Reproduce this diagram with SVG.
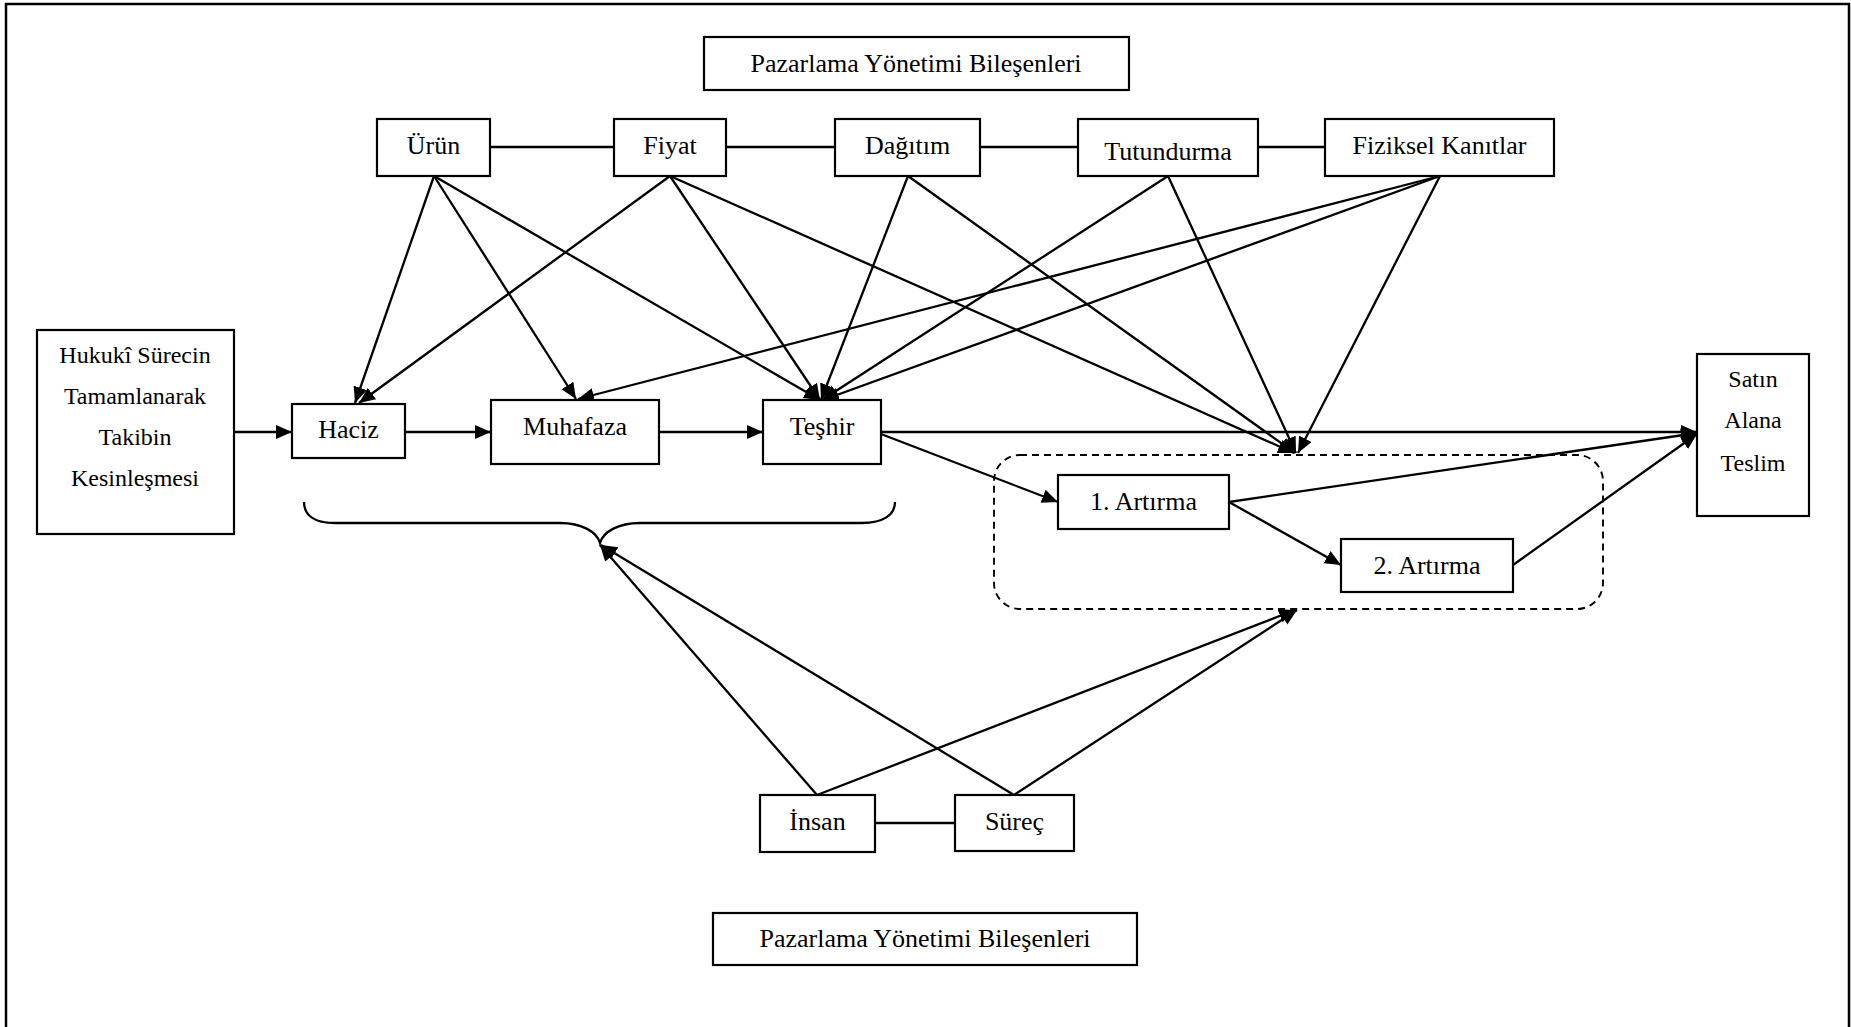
<svg xmlns="http://www.w3.org/2000/svg" width="1851" height="1027" viewBox="0 0 1851 1027">
  <style>
    .box { fill: #fff; stroke: #000; stroke-width: 2.2; }
    .lbl { font-family: "Liberation Serif", "Times New Roman", serif; font-size: 26px; fill: #000; text-anchor: middle; }
    .sm { font-size: 24px; }
    .ln { stroke: #000; stroke-width: 2.3; fill: none; }
    .arr { stroke: #000; stroke-width: 2.3; fill: none; marker-end: url(#head); }
  </style>
  <defs>
    <marker id="head" markerUnits="userSpaceOnUse" markerWidth="18" markerHeight="15" refX="16" refY="7" orient="auto">
      <path d="M0,0 L16,7 L0,14 z" fill="#000"/>
    </marker>
  </defs>

  <rect x="0" y="0" width="1851" height="1027" fill="#fff"/>
  <!-- frame -->
  <rect x="6" y="4" width="1843" height="1040" fill="none" stroke="#000" stroke-width="2.5"/>

  <!-- connectors -->
  <g id="connectors">
    <!-- top row links -->
    <line class="ln" x1="490" y1="147" x2="614" y2="147"/>
    <line class="ln" x1="726" y1="147" x2="835" y2="147"/>
    <line class="ln" x1="980" y1="147" x2="1078" y2="147"/>
    <line class="ln" x1="1258" y1="147" x2="1325" y2="147"/>
    <!-- Ürün -->
    <line class="arr" x1="434" y1="176" x2="355" y2="403"/>
    <line class="arr" x1="434" y1="176" x2="576" y2="399"/>
    <line class="arr" x1="434" y1="176" x2="820" y2="400"/>
    <!-- Fiyat -->
    <line class="arr" x1="670" y1="176" x2="359" y2="403"/>
    <line class="arr" x1="670" y1="176" x2="820" y2="400"/>
    <line class="arr" x1="670" y1="176" x2="1294" y2="453"/>
    <!-- Dağıtım -->
    <line class="arr" x1="908" y1="176" x2="821" y2="400"/>
    <line class="arr" x1="908" y1="176" x2="1295" y2="453"/>
    <!-- Tutundurma -->
    <line class="arr" x1="1168" y1="176" x2="822" y2="400"/>
    <line class="arr" x1="1168" y1="176" x2="1296" y2="453"/>
    <!-- Fiziksel Kanıtlar -->
    <line class="arr" x1="1440" y1="176" x2="578" y2="399"/>
    <line class="arr" x1="1440" y1="176" x2="823" y2="400"/>
    <line class="arr" x1="1440" y1="176" x2="1298" y2="453"/>
    <!-- main flow -->
    <line class="arr" x1="234" y1="432" x2="292" y2="432"/>
    <line class="arr" x1="405" y1="432" x2="491" y2="432"/>
    <line class="arr" x1="659" y1="432" x2="763" y2="432"/>
    <line class="arr" x1="881" y1="432" x2="1697" y2="432"/>
    <line class="arr" x1="881" y1="434" x2="1058" y2="502"/>
    <line class="arr" x1="1229" y1="502" x2="1341" y2="565"/>
    <line class="arr" x1="1229" y1="502" x2="1697" y2="433"/>
    <line class="arr" x1="1513" y1="565" x2="1697" y2="434"/>
    <!-- auction group -->
    <rect x="994" y="455" width="609" height="154" rx="26" ry="26" fill="none" stroke="#000" stroke-width="1.9" stroke-dasharray="7 5"/>
    <!-- brace under Haciz / Muhafaza / Teşhir -->
    <path class="ln" d="M304,502 C304,515 314,523 335,523 L560,523 C582,523 597,532 600,543 C603,532 618,523 640,523 L862,523 C883,523 895,515 895,502"/>
    <!-- İnsan / Süreç -->
    <line class="ln" x1="875" y1="823" x2="955" y2="823"/>
    <line class="arr" x1="817" y1="795" x2="600" y2="545"/>
    <line class="arr" x1="817" y1="795" x2="1295" y2="610"/>
    <line class="arr" x1="1014" y1="795" x2="601" y2="545"/>
    <line class="arr" x1="1014" y1="795" x2="1297" y2="610"/>
  </g>

  <g id="pazarlama-ust">
    <rect class="box" x="704" y="37" width="425" height="53"/>
    <text class="lbl" x="916" y="72">Pazarlama Yönetimi Bileşenleri</text>
  </g>
  <g id="urun">
    <rect class="box" x="377" y="119" width="113" height="57"/>
    <text class="lbl" x="433.5" y="154">Ürün</text>
  </g>
  <g id="fiyat">
    <rect class="box" x="614" y="119" width="112" height="57"/>
    <text class="lbl" x="670" y="154">Fiyat</text>
  </g>
  <g id="dagitim">
    <rect class="box" x="835" y="119" width="145" height="57"/>
    <text class="lbl" x="907.5" y="154">Dağıtım</text>
  </g>
  <g id="tutundurma">
    <rect class="box" x="1078" y="119" width="180" height="57"/>
    <text class="lbl" x="1168" y="160">Tutundurma</text>
  </g>
  <g id="fiziksel-kanitlar">
    <rect class="box" x="1325" y="119" width="229" height="57"/>
    <text class="lbl" x="1439.5" y="154">Fiziksel Kanıtlar</text>
  </g>
  <g id="hukuki-surec">
    <rect class="box" x="37" y="330" width="197" height="204"/>
    <text class="lbl sm" x="135" y="363">Hukukî Sürecin</text>
    <text class="lbl sm" x="135" y="404">Tamamlanarak</text>
    <text class="lbl sm" x="135" y="445">Takibin</text>
    <text class="lbl sm" x="135" y="486">Kesinleşmesi</text>
  </g>
  <g id="haciz">
    <rect class="box" x="292" y="404" width="113" height="54"/>
    <text class="lbl" x="348.5" y="438">Haciz</text>
  </g>
  <g id="muhafaza">
    <rect class="box" x="491" y="400" width="168" height="64"/>
    <text class="lbl" x="575" y="435">Muhafaza</text>
  </g>
  <g id="teshir">
    <rect class="box" x="763" y="400" width="118" height="64"/>
    <text class="lbl" x="822" y="435">Teşhir</text>
  </g>
  <g id="artirma-1">
    <rect class="box" x="1058" y="475" width="171" height="54"/>
    <text class="lbl" x="1143.5" y="510">1. Artırma</text>
  </g>
  <g id="artirma-2">
    <rect class="box" x="1341" y="539" width="172" height="53"/>
    <text class="lbl" x="1427" y="574">2. Artırma</text>
  </g>
  <g id="satin-alana-teslim">
    <rect class="box" x="1697" y="354" width="112" height="162"/>
    <text class="lbl sm" x="1753" y="387">Satın</text>
    <text class="lbl sm" x="1753" y="428">Alana</text>
    <text class="lbl sm" x="1753" y="471">Teslim</text>
  </g>
  <g id="insan">
    <rect class="box" x="760" y="795" width="115" height="57"/>
    <text class="lbl" x="817.5" y="830">İnsan</text>
  </g>
  <g id="surec">
    <rect class="box" x="955" y="795" width="119" height="56"/>
    <text class="lbl" x="1014.5" y="830">Süreç</text>
  </g>
  <g id="pazarlama-alt">
    <rect class="box" x="713" y="913" width="424" height="52"/>
    <text class="lbl" x="925" y="947">Pazarlama Yönetimi Bileşenleri</text>
  </g>
</svg>
